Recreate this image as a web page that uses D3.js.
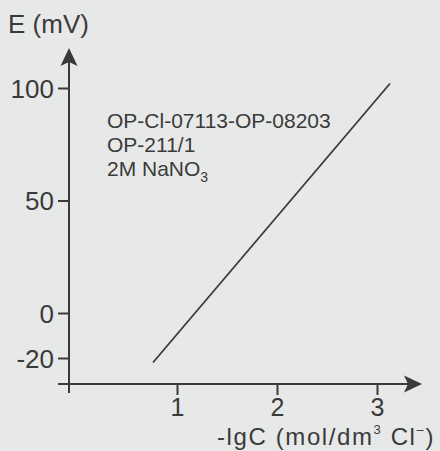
<!DOCTYPE html>
<html>
<head>
<meta charset="utf-8">
<script src="https://cdn.jsdelivr.net/npm/d3@7"></script>
<style>
  html, body { margin: 0; padding: 0; background: #e7e9e9; }
  svg { display: block; }
  .ax text { font-family: "Liberation Sans", Arial, sans-serif; font-size: 26px; fill: #3a3a3a; }
  .ax line { stroke: #3a3a3a; stroke-width: 2; }
  .ax path { display: none; }
  .xax text { font-size: 25px; }
</style>
</head>
<body>
<div id="chart"></div>
<script>
// response line of the electrode (E vs -lgC)
var lineX = [0.76, 3.13];
var lineE = [-22, 102];

var xTicks = [1, 2, 3];
var yTicks = [-20, 0, 50, 100];

var noteLines = ["OP-Cl-07113-OP-08203", "OP-211/1", "2M NaNO"];

var width = 440, height = 451, ink = "#3a3a3a";

var svg = d3.select("#chart").append("svg")
    .attr("width", width)
    .attr("height", height);

var x = d3.scaleLinear().domain([1, 3]).range([177, 377]);
var y = d3.scaleLinear().domain([-20, 100]).range([358, 88]);

var axisX = 69, axisY = 384;

// plain hyphen for negatives, like the printed figure
var fmt = function(d) { return String(d); };

// axis lines with arrow heads
svg.append("line")
    .attr("x1", axisX).attr("x2", axisX)
    .attr("y1", 393).attr("y2", 60)
    .attr("stroke", ink).attr("stroke-width", 2);
svg.append("line")
    .attr("x1", 58).attr("x2", 410)
    .attr("y1", axisY).attr("y2", axisY)
    .attr("stroke", ink).attr("stroke-width", 2);

svg.append("path")
    .attr("d", "M" + axisX + ",48 L" + (axisX + 8.5) + ",66 L" + axisX + ",62 L" + (axisX - 8.5) + ",66 Z")
    .attr("fill", ink);
svg.append("path")
    .attr("d", "M422," + axisY + " L404," + (axisY - 8.5) + " L408," + axisY + " L404," + (axisY + 8.5) + " Z")
    .attr("fill", ink);

// y ticks (left side)
svg.append("g")
    .attr("class", "ax")
    .attr("transform", "translate(" + axisX + ",0)")
    .call(d3.axisLeft(y).tickValues(yTicks).tickFormat(fmt).tickSize(11).tickPadding(4))
    .selectAll("text").attr("dy", "0.36em");

// x ticks (below)
svg.append("g")
    .attr("class", "ax xax")
    .attr("transform", "translate(0," + axisY + ")")
    .call(d3.axisBottom(x).tickValues(xTicks).tickFormat(fmt).tickSize(11).tickPadding(3));

// axis titles
svg.append("text")
    .attr("x", 8).attr("y", 33)
    .attr("font-family", "Liberation Sans, Arial, sans-serif")
    .attr("font-size", 26)
    .attr("fill", ink)
    .text("E (mV)");

var xt = svg.append("text")
    .attr("x", 435).attr("y", 445)
    .attr("text-anchor", "end")
    .attr("font-family", "Liberation Sans, Arial, sans-serif")
    .attr("font-size", 24)
    .attr("letter-spacing", 1.6)
    .attr("fill", ink);
xt.append("tspan").text("-lgC (mol/dm");
xt.append("tspan").attr("font-size", 13).attr("dy", -11).text("3");
xt.append("tspan").attr("dy", 11).text(" Cl");
xt.append("tspan").attr("font-size", 13).attr("dy", -11).text("\u2013");
xt.append("tspan").attr("dy", 11).text(")");

// the calibration line
var line = d3.line()
    .x(function(d, i) { return x(lineX[i]); })
    .y(function(d) { return y(d); });

svg.append("path")
    .datum(lineE)
    .attr("d", line)
    .attr("fill", "none")
    .attr("stroke", ink)
    .attr("stroke-width", 1.8);

// annotation block
var note = svg.append("g")
    .attr("font-family", "Liberation Sans Narrow, Liberation Sans, Arial, sans-serif")
    .attr("font-size", 21)
    .attr("fill", ink);

noteLines.forEach(function(t, i) {
    var tx = note.append("text")
        .attr("x", 107)
        .attr("y", 128 + i * 24);
    tx.append("tspan").text(t);
    if (i === 2) {
        tx.append("tspan").attr("font-size", 14).attr("dy", 6).text("3");
    }
});
</script>
</body>
</html>
